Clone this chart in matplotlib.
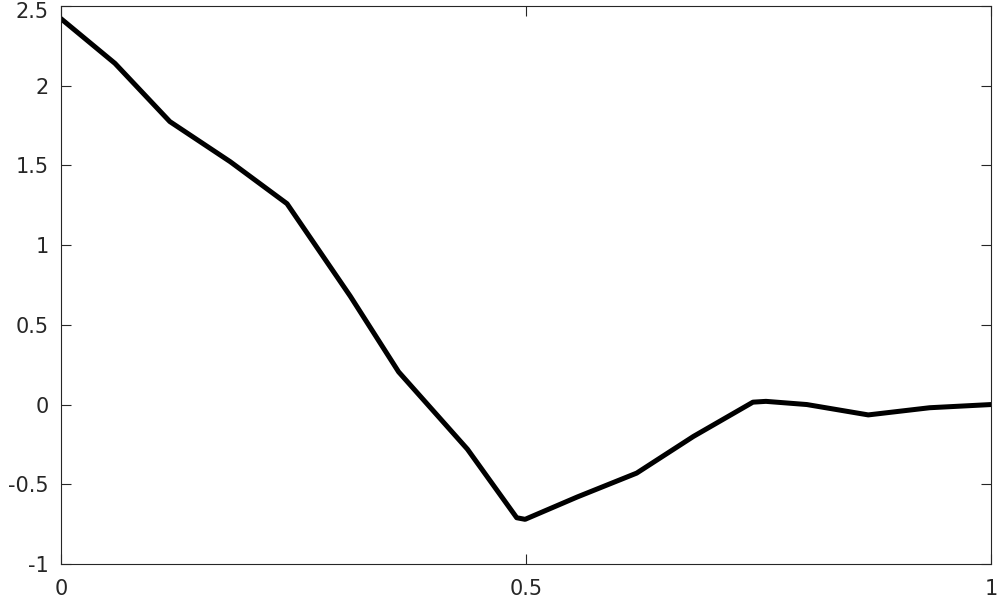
import matplotlib
matplotlib.use("Agg")
import matplotlib.pyplot as plt
import matplotlib.transforms as mtransforms

# data
x_vals = [0.0, 0.058, 0.117, 0.182, 0.243, 0.311, 0.363, 0.437, 0.490, 0.499,
          0.555, 0.619, 0.680, 0.744, 0.758, 0.802, 0.868, 0.934, 1.0]
y_vals = [2.42, 2.14, 1.775, 1.523, 1.26, 0.68, 0.205, -0.28, -0.71, -0.72,
          -0.58, -0.43, -0.20, 0.015, 0.02, 0.0, -0.065, -0.02, 0.0]

x_ticks = [0, 0.5, 1]
x_labels = ["0", "0.5", "1"]
y_ticks = [-1, -0.5, 0, 0.5, 1, 1.5, 2, 2.5]
y_labels = ["-1", "-0.5", "0", "0.5", "1", "1.5", "2", "2.5"]

plt.rcParams["font.family"] = ["DejaVu Sans"]

fig = plt.figure(figsize=(9.97, 5.98), dpi=100)
ax = fig.add_axes([0.0612, 0.0569, 0.9328, 0.9331])

ax.plot(x_vals, y_vals, color="black", lw=3.6, solid_joinstyle="round")

ax.set_xlim(0, 1)
ax.set_ylim(-1, 2.5)
ax.set_xticks(x_ticks)
ax.set_xticklabels(x_labels)
ax.set_yticks(y_ticks)
ax.set_yticklabels(y_labels)

axis_col = "#262626"
for sp in ax.spines.values():
    sp.set_color(axis_col)
    sp.set_linewidth(0.8)
ax.tick_params(direction="in", length=7, width=0.8, color=axis_col,
               labelcolor=axis_col, labelsize=15, top=True, right=True)
ax.tick_params(axis="x", pad=11)
ax.tick_params(axis="y", pad=9)

# nudge the top label down a little so it stays inside the figure
top_lbl = ax.get_yticklabels()[-1]
top_lbl.set_transform(top_lbl.get_transform() +
                      mtransforms.ScaledTranslation(0, -3 / 72, fig.dpi_scale_trans))

fig.savefig("out.png", dpi=100)
